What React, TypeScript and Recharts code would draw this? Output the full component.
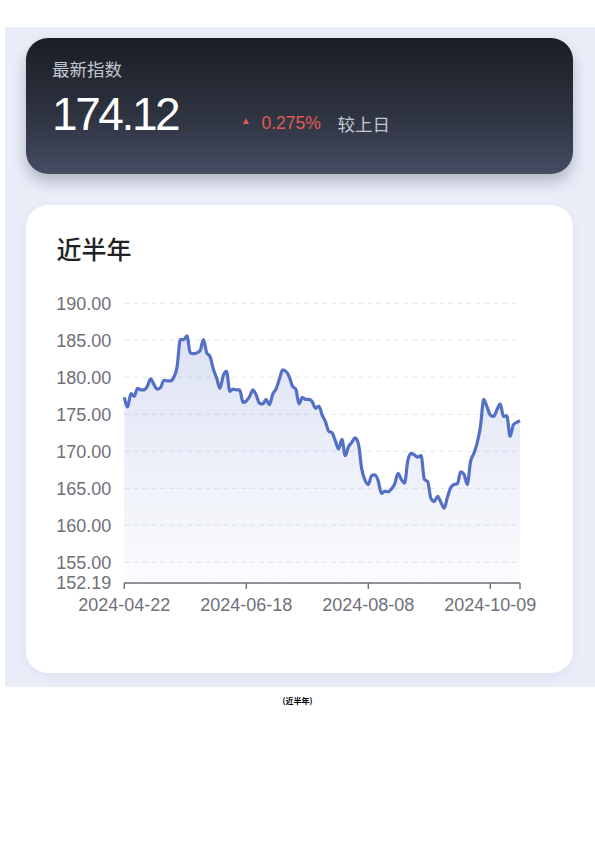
import React from 'react';
import { AreaChart, Area, XAxis, YAxis, CartesianGrid } from 'recharts';

// trading days, last half year
const dates = [
  '2024-04-22', '2024-04-23', '2024-04-24', '2024-04-25', '2024-04-26', '2024-04-29', '2024-04-30',
  '2024-05-06', '2024-05-07', '2024-05-08', '2024-05-09', '2024-05-10', '2024-05-13', '2024-05-14',
  '2024-05-15', '2024-05-16', '2024-05-17', '2024-05-20', '2024-05-21', '2024-05-22', '2024-05-23',
  '2024-05-24', '2024-05-27', '2024-05-28', '2024-05-29', '2024-05-30', '2024-05-31', '2024-06-03',
  '2024-06-04', '2024-06-05', '2024-06-06', '2024-06-07', '2024-06-11', '2024-06-12', '2024-06-13',
  '2024-06-14', '2024-06-17', '2024-06-18', '2024-06-19', '2024-06-20', '2024-06-21', '2024-06-24',
  '2024-06-25', '2024-06-26', '2024-06-27', '2024-06-28', '2024-07-01', '2024-07-02', '2024-07-03',
  '2024-07-04', '2024-07-05', '2024-07-08', '2024-07-09', '2024-07-10', '2024-07-11', '2024-07-12',
  '2024-07-15', '2024-07-16', '2024-07-17', '2024-07-18', '2024-07-19', '2024-07-22', '2024-07-23',
  '2024-07-24', '2024-07-25', '2024-07-26', '2024-07-29', '2024-07-30', '2024-07-31', '2024-08-01',
  '2024-08-02', '2024-08-05', '2024-08-06', '2024-08-07', '2024-08-08', '2024-08-09', '2024-08-12',
  '2024-08-13', '2024-08-14', '2024-08-15', '2024-08-16', '2024-08-19', '2024-08-20', '2024-08-21',
  '2024-08-22', '2024-08-23', '2024-08-26', '2024-08-27', '2024-08-28', '2024-08-29', '2024-08-30',
  '2024-09-02', '2024-09-03', '2024-09-04', '2024-09-05', '2024-09-06', '2024-09-09', '2024-09-10',
  '2024-09-11', '2024-09-12', '2024-09-13', '2024-09-18', '2024-09-19', '2024-09-20', '2024-09-23',
  '2024-09-24', '2024-09-25', '2024-09-26', '2024-09-27', '2024-09-30', '2024-10-08', '2024-10-09',
  '2024-10-10', '2024-10-11', '2024-10-14', '2024-10-15', '2024-10-16', '2024-10-17', '2024-10-18',
  '2024-10-21', '2024-10-22',
];

const indexValues = [
  177.3, 176.0, 177.8, 177.4, 178.5, 178.3, 178.3,
  178.8, 179.8, 179.0, 178.4, 178.6, 179.6, 179.5,
  179.5, 180.0, 181.4, 185.1, 185.1, 185.6, 183.3,
  183.2, 183.3, 183.6, 185.1, 183.3, 182.8, 181.1,
  179.9, 178.5, 180.2, 180.8, 178.1, 178.4, 178.3,
  178.3, 176.6, 176.8, 177.4, 178.3, 177.6, 176.5,
  176.4, 177.0, 176.3, 177.7, 178.4, 179.7, 181.0,
  180.8, 180.1, 178.8, 178.4, 176.4, 177.3, 177.0,
  177.0, 176.7, 175.8, 176.1, 174.9, 174.0, 172.7,
  172.5, 171.4, 170.3, 171.6, 169.4, 170.6, 171.2,
  171.8, 171.0, 167.6, 166.1, 165.5, 166.7, 166.8,
  166.0, 164.3, 164.6, 164.5, 164.9, 165.6, 167.0,
  166.2, 165.7, 168.8, 169.7, 169.5, 169.2, 169.4,
  166.2, 165.9, 163.6, 163.2, 163.9, 163.1, 162.3,
  163.8, 165.1, 165.5, 165.6, 167.2, 166.9, 165.5,
  168.6, 169.7, 171.1, 173.3, 177.0, 176.0, 174.9,
  174.7, 175.6, 176.4, 174.7, 174.8, 172.0, 173.6,
  173.9, 174.12,
];

const xTicks = ['2024-04-22', '2024-06-18', '2024-08-08', '2024-10-09', '2024-10-22'];
const xLabelled = ['2024-04-22', '2024-06-18', '2024-08-08', '2024-10-09'];
const yTicks = [152.19, 155, 160, 165, 170, 175, 180, 185, 190];

const latestValue = '174.12';
const dailyChange = '0.275%';

const data = dates.map((date, i) => ({ date, value: indexValues[i] }));

const latin = '"Liberation Sans", Arial, "Noto Sans CJK SC", sans-serif';
const cjk = '"Noto Sans CJK SC", sans-serif';

export default function App() {
  return (
    <div style={{ position: 'absolute', left: 0, top: 0, width: 595, height: 842, background: '#fff' }}>
      {/* page background panel */}
      <div style={{ position: 'absolute', left: 5, top: 27, width: 590, height: 660, background: '#e9edf8' }} />

      {/* latest index card */}
      <div
        style={{
          position: 'absolute', left: 26, top: 38, width: 547, height: 136, borderRadius: 22,
          background: 'linear-gradient(180deg, #1a1d24 0%, #2d323f 55%, #454d64 100%)',
          boxShadow: '0 8px 14px rgba(40, 48, 70, 0.28)',
        }}
      />
      <div style={{ position: 'absolute', left: 52, top: 60, fontFamily: cjk, fontSize: 17.5, lineHeight: '17.5px', color: '#c3c7d0' }}>
        最新指数
      </div>
      <div style={{ position: 'absolute', left: 52, top: 91, fontFamily: latin, fontSize: 46, lineHeight: '46px', color: '#ffffff', letterSpacing: -2.4 }}>
        {latestValue}
      </div>
      <div
        style={{
          position: 'absolute', left: 243, top: 118, width: 0, height: 0,
          borderLeft: '3.5px solid transparent', borderRight: '3.5px solid transparent', borderBottom: '6px solid #e05a55',
        }}
      />
      <div style={{ position: 'absolute', left: 261.5, top: 115.2, fontFamily: latin, fontSize: 17.5, lineHeight: '17.5px', color: '#e05a55' }}>
        {dailyChange}
      </div>
      <div style={{ position: 'absolute', left: 337.5, top: 114.6, fontFamily: cjk, fontSize: 17.5, lineHeight: '17.5px', color: '#c3c7d0' }}>
        较上日
      </div>

      {/* chart card */}
      <div
        style={{
          position: 'absolute', left: 26, top: 205, width: 547, height: 468, borderRadius: 22,
          background: '#ffffff', boxShadow: '0 4px 12px rgba(80, 90, 130, 0.06)',
        }}
      />
      <div style={{ position: 'absolute', left: 56.5, top: 236.3, fontFamily: cjk, fontSize: 25, lineHeight: '25px', color: '#222', fontWeight: 500 }}>
        近半年
      </div>

      <div style={{ position: 'absolute', left: 26, top: 290 }}>
        <AreaChart width={520} height={333} data={data} margin={{ top: 13.3, right: 26, left: 0, bottom: 10 }}>
          <defs>
            <linearGradient id="areaFill" x1="0" y1="0" x2="0" y2="1">
              <stop offset="0%" stopColor="#5470c6" stopOpacity={0.2} />
              <stop offset="100%" stopColor="#5470c6" stopOpacity={0.02} />
            </linearGradient>
          </defs>
          <CartesianGrid vertical={false} stroke="#e0e6f1" strokeDasharray="5 4" />
          <XAxis
            dataKey="date"
            ticks={xTicks}
            interval={0}
            height={30}
            tickFormatter={(d) => (xLabelled.includes(d) ? d : '')}
            tick={{ fontSize: 18, fill: '#6e7079', fontFamily: latin }}
            tickSize={6}
            tickMargin={9}
            axisLine={{ stroke: '#6e7079', strokeWidth: 1.5 }}
            tickLine={{ stroke: '#6e7079', strokeWidth: 1.5 }}
          />
          <YAxis
            type="number"
            domain={[152.19, 190]}
            ticks={yTicks}
            interval={0}
            width={98.3}
            tickFormatter={(v) => Number(v).toFixed(2)}
            tick={{ fontSize: 18, fill: '#6e7079', fontFamily: latin }}
            axisLine={false}
            tickLine={false}
            tickSize={6}
            tickMargin={7}
          />
          <Area
            type="monotone"
            dataKey="value"
            stroke="#5470c6"
            strokeWidth={3.2}
            fill="url(#areaFill)"
            fillOpacity={1}
            dot={false}
            activeDot={false}
            isAnimationActive={false}
          />
        </AreaChart>
      </div>

      <div style={{ position: 'absolute', left: 0, width: 595, top: 696, textAlign: 'center', fontFamily: cjk, fontSize: 8, lineHeight: '9px', fontWeight: 700, color: '#000' }}>
        (近半年)
      </div>
    </div>
  );
}
